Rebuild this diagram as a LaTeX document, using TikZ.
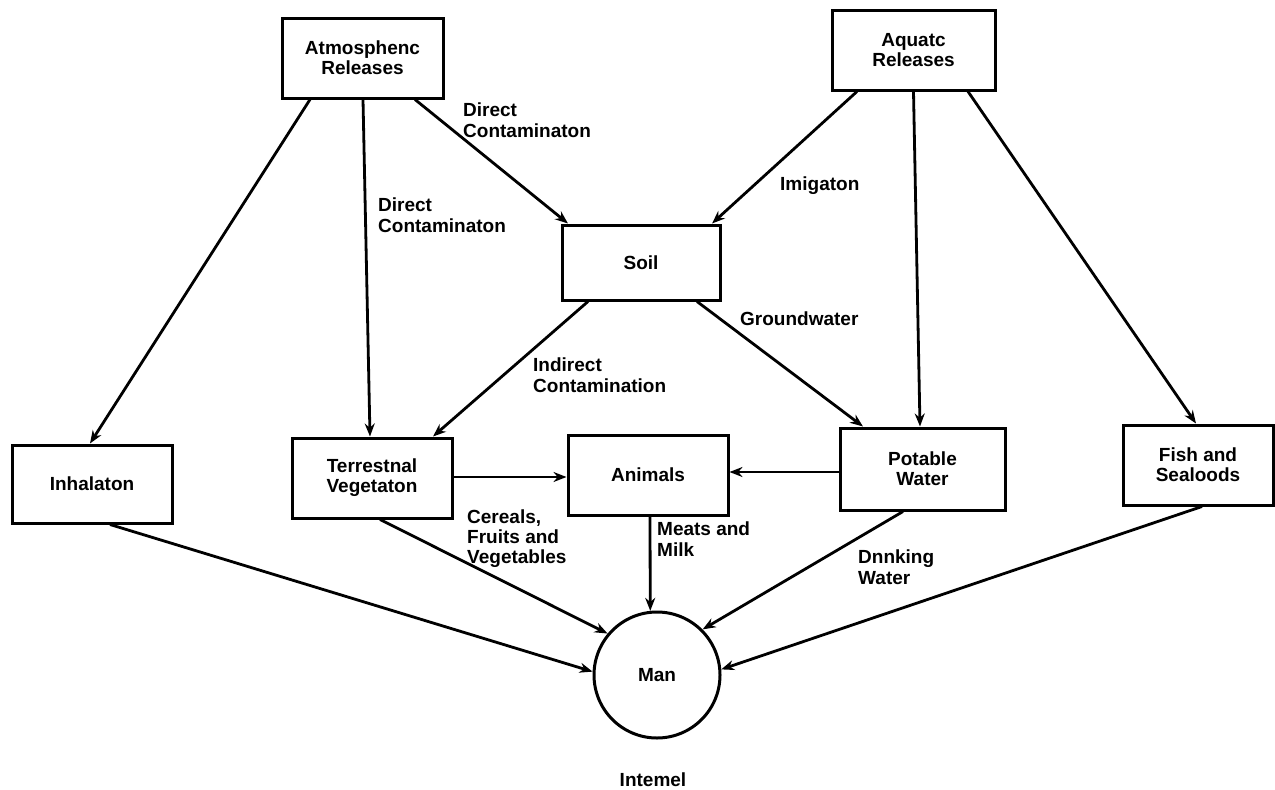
\documentclass[tikz,border=0pt]{standalone}
\usepackage{fontspec}
\setmainfont{Liberation Sans}
\usetikzlibrary{arrows.meta}
\begin{document}
\begin{tikzpicture}[x=1pt,y=-1pt,
  every node/.style={font=\bfseries\fontsize{19}{20}\selectfont},
  boxnode/.style={draw,line width=3pt,rectangle,align=center,inner sep=0pt},
  lbl/.style={anchor=north west,align=left,inner sep=0pt,font=\bfseries\fontsize{19}{21}\selectfont},
  conn/.style={line width=2.8pt},
  arr/.style={conn,-{Stealth[length=13pt,width=10pt]}}]
\useasboundingbox (0,0) rectangle (1275,790);
\fill[white] (0,0) rectangle (1275,790);
% boxes
\node[boxnode,minimum width=161pt,minimum height=80pt] (atm) at (362.5,58) {Atmosphenc\\Releases};
\node[boxnode,minimum width=163pt,minimum height=80pt] (aqu) at (913.5,50) {Aquatc\\Releases};
\node[boxnode,minimum width=158pt,minimum height=75pt] (soil) at (641,262.5) {Soil};
\node[boxnode,minimum width=160pt,minimum height=78pt] (inh) at (92,484) {Inhalaton};
\node[boxnode,minimum width=160pt,minimum height=80pt] (terr) at (372,478) {Terrestnal\\Vegetaton};
\node[boxnode,minimum width=160pt,minimum height=80pt] (anim) at (648,475) {Animals};
\node[boxnode,minimum width=165pt,minimum height=82pt] (pot) at (922.5,469) {Potable\\Water};
\node[boxnode,minimum width=150pt,minimum height=80pt] (fish) at (1198,465) {Fish and\\Sealoods};
\node[draw,circle,line width=3pt,minimum size=126pt,inner sep=0pt] (man) at (657,675) {Man};
% connectors
\draw[arr] ([xshift=-52.5pt]atm.south) -- ([xshift=-2pt]inh.north);
\draw[arr] ([xshift=0.5pt]atm.south) -- ([xshift=-2pt]terr.north);
\draw[arr] ([xshift=52.5pt]atm.south) -- ([xshift=-73pt]soil.north);
\draw[arr] ([xshift=-56.5pt]aqu.south) -- ([xshift=71pt]soil.north);
\draw[arr] ([xshift=0pt]aqu.south) -- ([xshift=-2.5pt]pot.north);
\draw[arr] ([xshift=54.5pt]aqu.south) -- ([xshift=-2pt]fish.north);
\draw[arr] ([xshift=-53pt]soil.south) -- ([xshift=61pt]terr.north);
\draw[arr] ([xshift=56pt]soil.south) -- ([xshift=-59.5pt]pot.north);
\draw[arr] ([yshift=1pt]terr.east) -- ([yshift=-2pt]anim.west);
\draw[arr] ([yshift=-3pt]pot.west) -- ([yshift=3pt]anim.east);
\draw[arr] ([xshift=2pt]anim.south) -- (man.96);
\draw[arr] ([xshift=18pt]inh.south) -- (man.177);
\draw[arr] ([xshift=8pt]terr.south) -- (man.140);
\draw[arr] ([xshift=-19.5pt]pot.south) -- (man.45);
\draw[arr] ([xshift=4pt]fish.south) -- (man.5);
% labels
\node[lbl] (dc1) at (463,103) {Direct\\Contaminaton};
\node[lbl] (dc2) at (378,198) {Direct\\Contaminaton};
\node[lbl] (irr) at (780,177) {Imigaton};
\node[lbl] (gw) at (740,312) {Groundwater};
\node[lbl] (ic) at (533,358) {Indirect\\Contamination};
\node[lbl,font=\bfseries\fontsize{19}{20}\selectfont] (cer) at (467,510) {Cereals,\\Fruits and\\Vegetables};
\node[lbl] (mm) at (657,522) {Meats and\\Milk};
\node[lbl] (dw) at (858,550) {Dnnking\\Water};
\node[inner sep=0pt] (int) at (653,780) {Intemel};
\end{tikzpicture}
\end{document}
